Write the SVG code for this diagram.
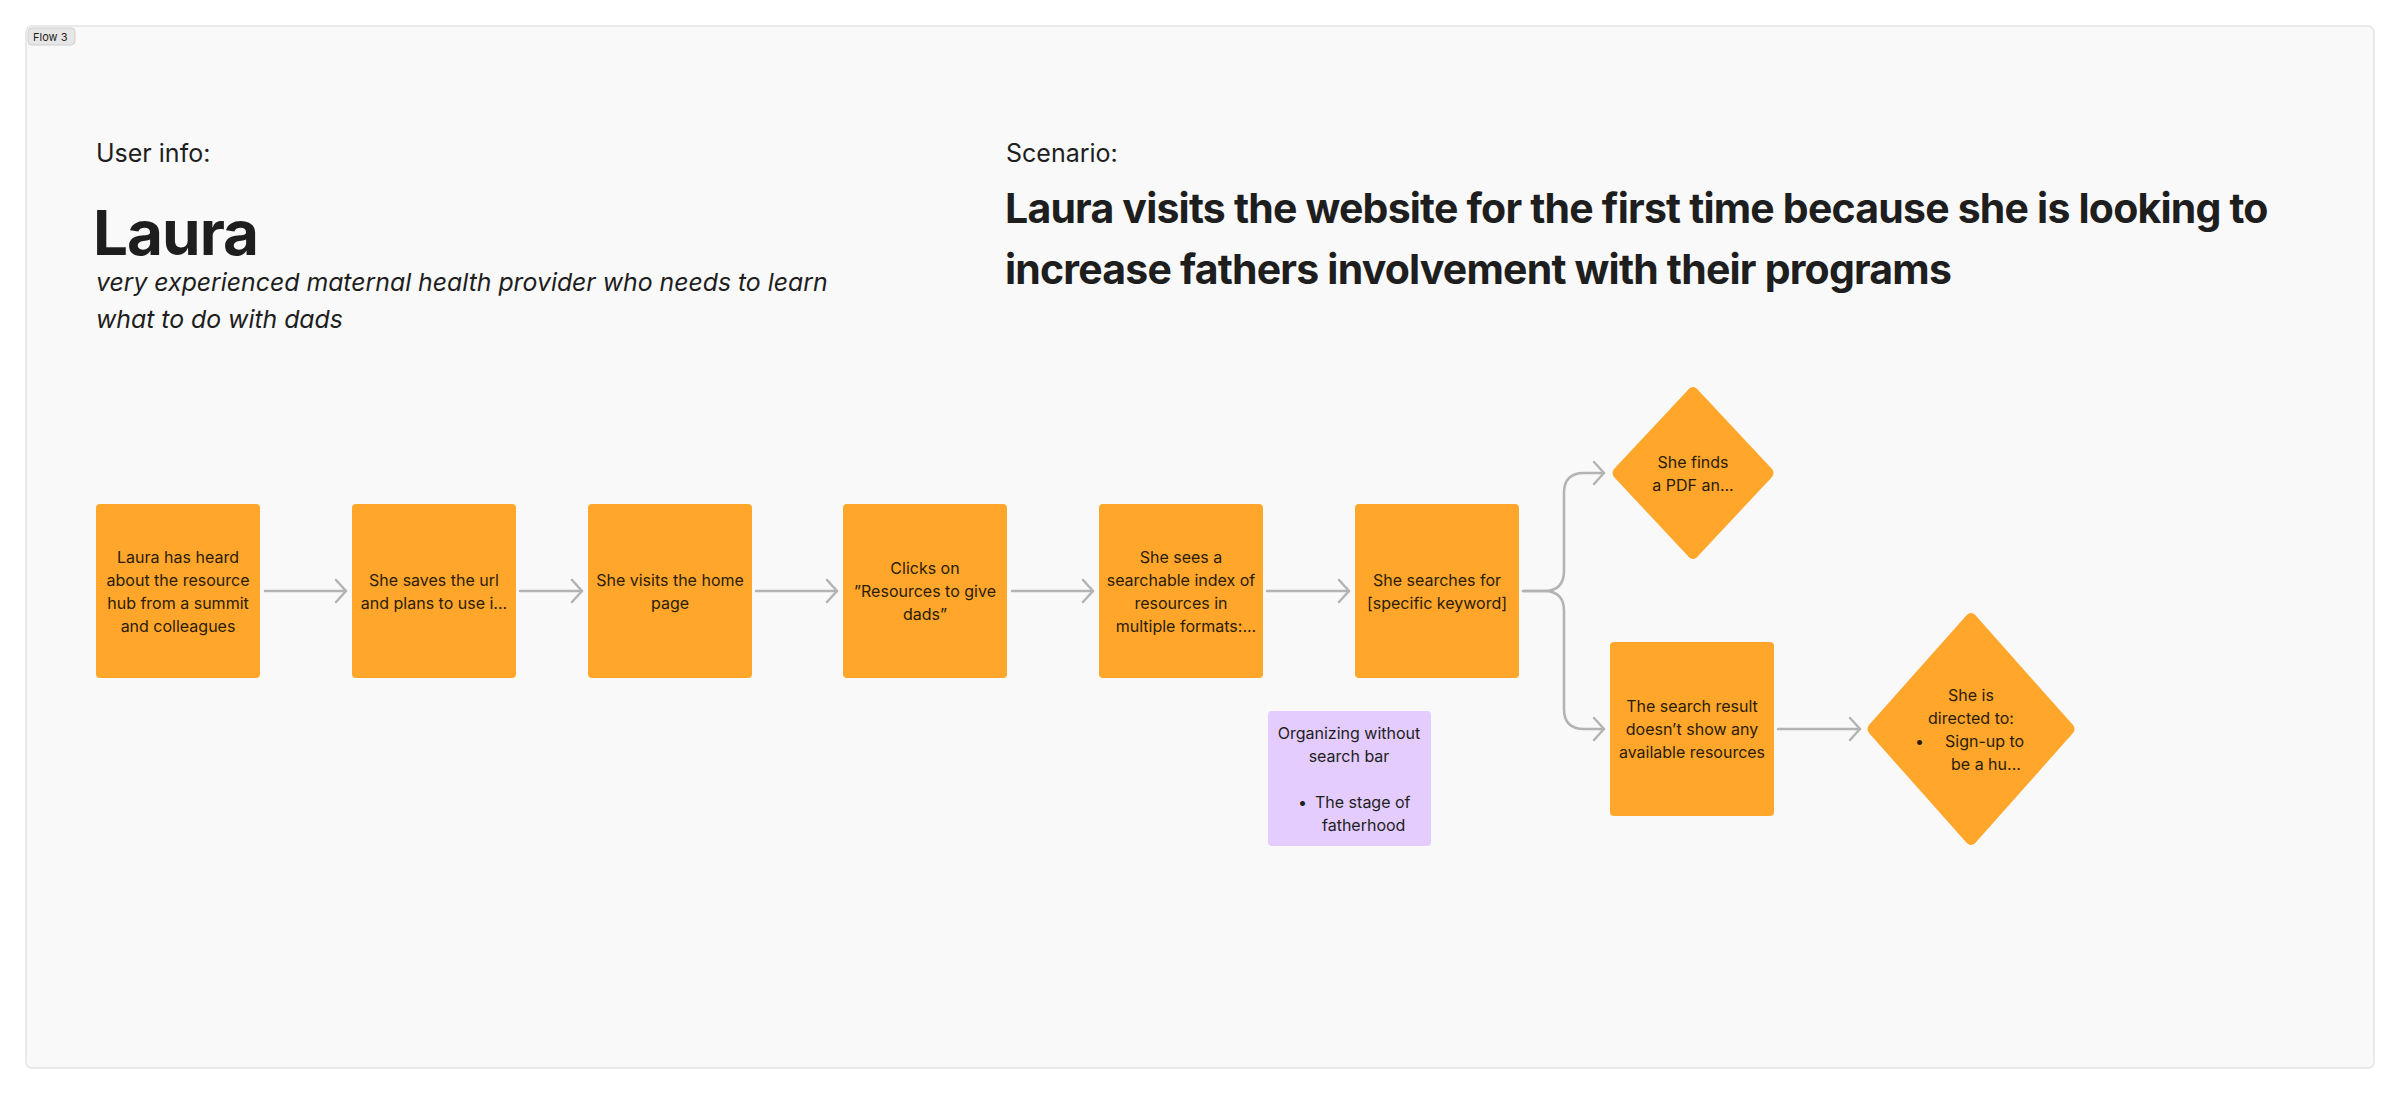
<svg xmlns="http://www.w3.org/2000/svg" width="2400" height="1095" viewBox="0 0 2400 1095">
<defs>
<style>
.frame{fill:#F9F9F9;stroke:#E3E3E3;stroke-width:1.5}
.badge{fill:#E6E6E6;stroke:#D0D0D0;stroke-width:1}
.node{fill:#FFA62B}
.note{fill:#E4CCFF}
.t{font-family:Inter,"Noto Sans","Liberation Sans",sans-serif;font-size:16px;fill:#2A1C08;text-anchor:middle}
.tn{font-family:Inter,"Noto Sans","Liberation Sans",sans-serif;font-size:16px;fill:#1E1E1E;text-anchor:middle}
.tl{text-anchor:start}
.h{font-family:Inter,"Noto Sans","Liberation Sans",sans-serif;fill:#1E1E1E}
.conn{fill:none;stroke:#B3B3B3;stroke-width:2.5;stroke-linecap:round;stroke-linejoin:round}
</style>
<marker id="arr" viewBox="-13 -13 15 26" markerWidth="15" markerHeight="26" refX="0" refY="0" orient="auto" markerUnits="userSpaceOnUse">
<path d="M-10,-11 L0,0 L-10,11" fill="none" stroke="#B3B3B3" stroke-width="2.5" stroke-linecap="round" stroke-linejoin="round"/>
</marker>
</defs>
<rect width="2400" height="1095" fill="#FFFFFF"/>
<g id="frame">
<rect class="frame" x="26" y="26" width="2348" height="1042" rx="6"/>
<rect class="badge" x="28" y="28" width="47" height="17" rx="4"/>
<text class="h" x="33" y="41" font-size="11">Flow 3</text>
</g>
<g id="user-info">
<text class="h" x="96" y="162" font-size="25">User info:</text>
<text class="h" x="93" y="255" font-size="62" font-weight="700" letter-spacing="-1">Laura</text>
<text class="h" x="96" y="291" font-size="24.8" font-style="italic">very experienced maternal health provider who needs to learn</text>
<text class="h" x="96" y="328" font-size="24.8" font-style="italic">what to do with dads</text>
</g>
<g id="scenario">
<text class="h" x="1006" y="162" font-size="25">Scenario:</text>
<text class="h" x="1005" y="223" font-size="41" font-weight="700" letter-spacing="-0.8">Laura visits the website for the first time because she is looking to</text>
<text class="h" x="1005" y="284" font-size="41" font-weight="700" letter-spacing="-0.8">increase fathers involvement with their programs</text>
</g>
<g id="connectors">
<path class="conn" d="M265,591 H346" marker-end="url(#arr)"/>
<path class="conn" d="M520,591 H582" marker-end="url(#arr)"/>
<path class="conn" d="M756,591 H837" marker-end="url(#arr)"/>
<path class="conn" d="M1012,591 H1093" marker-end="url(#arr)"/>
<path class="conn" d="M1267,591 H1349" marker-end="url(#arr)"/>
<path class="conn" d="M1523,591 H1544 Q1564,591 1564,571 V493 Q1564,473 1584,473 H1604" marker-end="url(#arr)"/>
<path class="conn" d="M1523,591 H1544 Q1564,591 1564,611 V709 Q1564,729 1584,729 H1604" marker-end="url(#arr)"/>
<path class="conn" d="M1778,729 H1860" marker-end="url(#arr)"/>
</g>
<g id="n1">
<rect class="node" x="96" y="504" width="164" height="174" rx="4"/>
<text class="t" x="178" y="563">Laura has heard</text>
<text class="t" x="178" y="586">about the resource</text>
<text class="t" x="178" y="609">hub from a summit</text>
<text class="t" x="178" y="632">and colleagues</text>
</g>
<g id="n2">
<rect class="node" x="352" y="504" width="164" height="174" rx="4"/>
<text class="t" x="434" y="586">She saves the url</text>
<text class="t" x="434" y="609">and plans to use i...</text>
</g>
<g id="n3">
<rect class="node" x="588" y="504" width="164" height="174" rx="4"/>
<text class="t" x="670" y="586">She visits the home</text>
<text class="t" x="670" y="609">page</text>
</g>
<g id="n4">
<rect class="node" x="843" y="504" width="164" height="174" rx="4"/>
<text class="t" x="925" y="574">Clicks on</text>
<text class="t" x="925" y="597">”Resources to give</text>
<text class="t" x="925" y="620">dads”</text>
</g>
<g id="n5">
<rect class="node" x="1099" y="504" width="164" height="174" rx="4"/>
<text class="t" x="1181" y="563">She sees a</text>
<text class="t" x="1181" y="586">searchable index of</text>
<text class="t" x="1181" y="609">resources in</text>
<text class="t" x="1186" y="632">multiple formats:...</text>
</g>
<g id="n6">
<rect class="node" x="1355" y="504" width="164" height="174" rx="4"/>
<text class="t" x="1437" y="586">She searches for</text>
<text class="t" x="1437" y="609">[specific keyword]</text>
</g>
<g id="d1">
<path class="node" d="M1693,387 Q1696,387 1699,391 L1772,469 Q1775,473 1772,477 L1699,555 Q1696,559 1693,559 Q1690,559 1687,555 L1614,477 Q1611,473 1614,469 L1687,391 Q1690,387 1693,387 Z"/>
<text class="t" x="1693" y="468">She finds</text>
<text class="t" x="1693" y="491">a PDF an...</text>
</g>
<g id="n7">
<rect class="node" x="1610" y="642" width="164" height="174" rx="4"/>
<text class="t" x="1692" y="712">The search result</text>
<text class="t" x="1692" y="735">doesn’t show any</text>
<text class="t" x="1692" y="758">available resources</text>
</g>
<g id="d2">
<path class="node" d="M1971,613 Q1974,613 1977,617 L2073,725 Q2076,729 2073,733 L1977,841 Q1974,845 1971,845 Q1968,845 1965,841 L1869,733 Q1866,729 1869,725 L1965,617 Q1968,613 1971,613 Z"/>
<text class="t" x="1971" y="701">She is</text>
<text class="t" x="1971" y="724">directed to:</text>
<text class="t tl" x="1915" y="747">•</text>
<text class="t tl" x="1945" y="747">Sign-up to</text>
<text class="t tl" x="1951" y="770">be a hu...</text>
</g>
<g id="note">
<rect class="note" x="1268" y="711" width="163" height="135" rx="4"/>
<text class="tn" x="1349" y="739">Organizing without</text>
<text class="tn" x="1349" y="762">search bar</text>
<text class="tn tl" x="1298" y="808">•</text>
<text class="tn tl" x="1315" y="808">The stage of</text>
<text class="tn tl" x="1322" y="831">fatherhood</text>
</g>
</svg>
